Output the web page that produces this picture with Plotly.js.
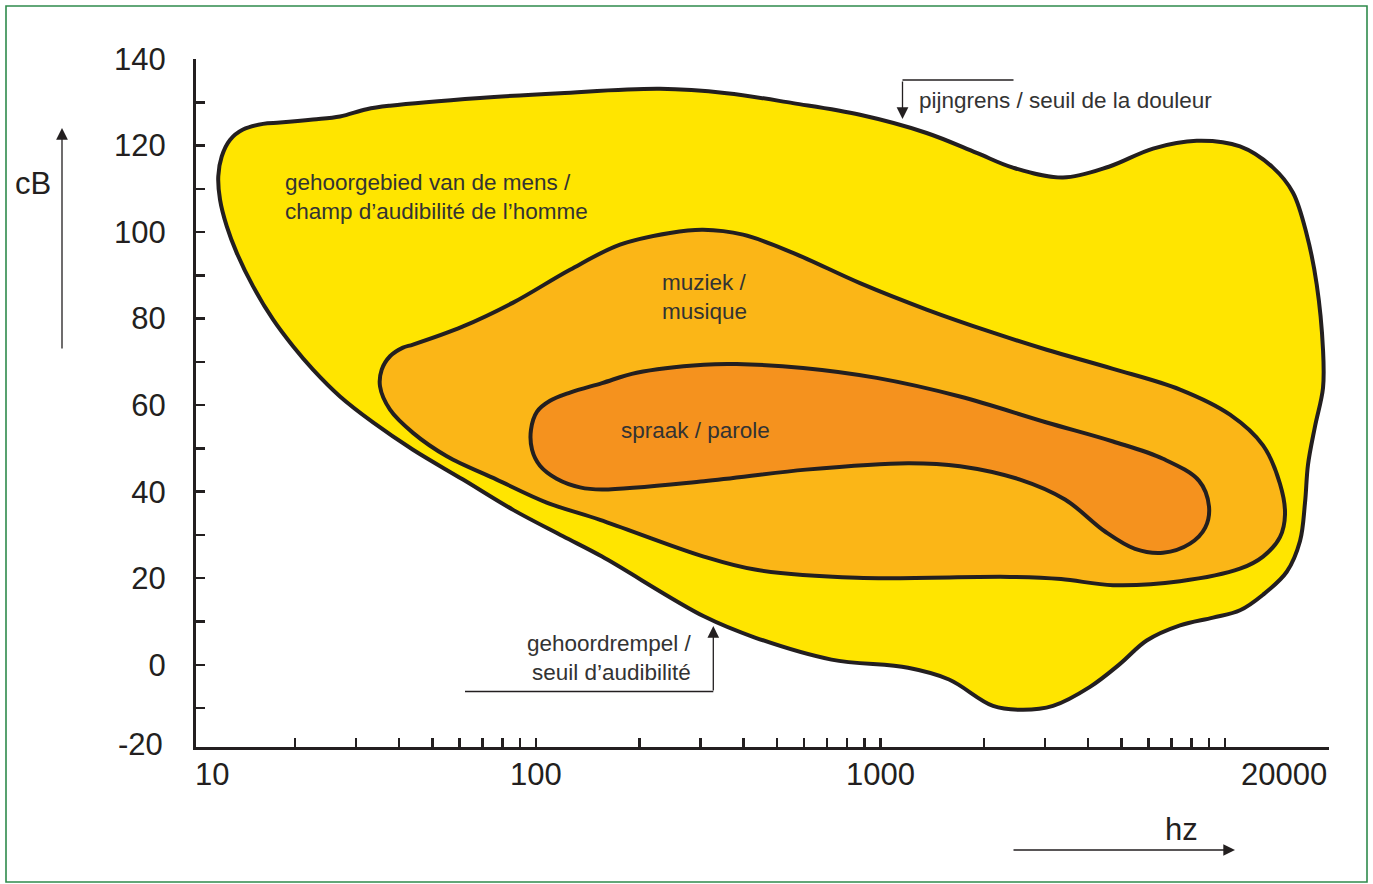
<!DOCTYPE html>
<html>
<head>
<meta charset="utf-8">
<script src="https://cdn.plot.ly/plotly-3.0.1.min.js"></script>
<style>
  html, body { margin: 0; padding: 0; background: #ffffff; }
  #chart { width: 1373px; height: 884px; }
</style>
</head>
<body>
<div id="chart"></div>
<script>
// ---- Data (frequency in Hz, level in cB) ----
var hearingFreq = [12.24, 12.93, 14.11, 16.13, 18.07, 22.53, 26.98, 32.25, 37.69, 68.8, 117.4, 229, 357.7, 557, 872, 1361, 1902, 2424, 3386, 4600, 6182, 8278, 11055, 13786, 15755, 17274, 18460, 19254, 19254, 18251, 17418, 17073, 16512, 15111, 12893, 11055, 9231, 7404, 5925, 4957, 4056, 3167, 2592, 2121, 1581, 1202, 721, 432, 307, 155.5, 119.8, 85.8, 61.4, 43.95, 33.65, 26.98, 22.53, 19.71, 17.24, 15.08, 13.53, 12.66, 12.1, 11.96, 12.24];
var hearingDb   = [117.5, 121.3, 123.7, 125.0, 125.3, 126.0, 126.7, 128.4, 129.2, 131.0, 132.1, 133.1, 132.1, 129.8, 127.1, 122.9, 118.3, 114.9, 112.6, 115.1, 119.3, 121.1, 119.8, 114.9, 109.1, 99.4, 87.9, 72.8, 64.0, 55.1, 46.3, 37.5, 28.6, 21.5, 16.2, 12.6, 10.9, 9.1, 5.6, 0.2, -5.1, -9.5, -10.4, -9.5, -3.4, -0.7, 1.2, 6.3, 11.2, 25.0, 29.7, 35.8, 42.8, 49.7, 56.0, 62.0, 68.2, 73.6, 79.8, 87.5, 95.2, 101.3, 107.5, 112.9, 117.5];

var musicFreq = [35.26, 35.66, 37.69, 41.1, 43.95, 61.4, 85.8, 125.5, 175.3, 244.9, 305.3, 399, 557, 872, 1361, 2121, 3037, 4732, 7404, 10340, 12893, 14440, 14936, 14440, 12893, 11055, 7404, 4732, 3342, 2376, 855, 432, 307, 153.4, 107.4, 76.9, 55.1, 43.95, 37.69, 35.26];
var musicDb   = [64.3, 68.2, 71.3, 73.3, 74.0, 78.2, 83.7, 91.3, 97.1, 99.8, 100.55, 99.4, 95.2, 88.2, 82.1, 76.75, 72.8, 68.4, 63.6, 57.8, 50.7, 41.85, 34.8, 29.5, 25.0, 22.2, 19.3, 18.4, 19.8, 20.3, 20.1, 22.0, 25.0, 33.5, 37.5, 42.8, 48.2, 53.6, 58.95, 64.3];

var speechFreq = [96.7, 100.7, 109.8, 125.5, 155.5, 196.0, 307, 382.4, 595.7, 975, 1701, 3037, 4732, 6609, 8408, 8986, 8762, 7914, 6609, 5479, 4485, 3432, 2541, 1701, 1202, 607.6, 307, 155.5, 134.2, 114.8, 102.7, 97.4, 96.7];
var speechDb   = [54.3, 58.5, 61.0, 62.9, 65.1, 67.5, 69.35, 69.5, 68.6, 66.3, 62.0, 56.0, 51.6, 47.6, 42.5, 36.6, 31.7, 28.0, 25.9, 26.8, 30.8, 38.2, 42.8, 45.9, 46.6, 45.1, 42.4, 40.5, 41.0, 43.0, 46.0, 49.7, 54.3];

var yTickVals = [-10, 0, 10, 20, 30, 40, 50, 60, 70, 80, 90, 100, 110, 120, 130, 140];
var yTickText = ['', '0', '', '20', '', '40', '', '60', '', '80', '', '100', '', '120', '', '140'];
var yBottomLabel = '-20';
var xTickVals = [20, 30, 40, 50, 60, 70, 80, 90, 100, 200, 300, 400, 500, 600, 700, 800, 900, 1000, 2000, 3000, 4000, 5000, 6000, 7000, 8000, 9000, 10000];
var xLabelVals = [10, 100, 1000, 20000];
var xLabelText = ['10', '100', '1000', '20000'];

var regionNames = ['gehoorgebied van de mens / champ d’audibilité de l’homme', 'muziek / musique', 'spraak / parole'];
var regionColors = ['#FFE500', '#FBB617', '#F5921E'];

// ---- Styling ----
var INK = '#231f20';
var TXT = '#333333';
var FONT = 'Liberation Sans, Arial, Helvetica, sans-serif';

function region(xs, ys, name, color) {
  return {
    type: 'scatter', mode: 'lines', x: xs, y: ys, name: name,
    fill: 'toself', fillcolor: color,
    line: { color: INK, width: 4, shape: 'spline', smoothing: 1 },
    hoverinfo: 'name', showlegend: false
  };
}

var traces = [
  region(hearingFreq, hearingDb, regionNames[0], regionColors[0]),
  region(musicFreq, musicDb, regionNames[1], regionColors[1]),
  region(speechFreq, speechDb, regionNames[2], regionColors[2])
];

// plot area in px
var L = 196, R = 1329, T = 59, B = 747;
var DEC = 344.5, X10 = 191.5;        // px per decade, px of 10 Hz
var PXU = 4.327;                     // px per cB
function px(x) { return (x - L) / (R - L); }
function py(y) { return (B - y) / (B - T); }

var annotations = [];
// x tick labels
var xAnch = ['left', 'center', 'center', 'right'];
for (var i = 0; i < xLabelVals.length; i++) {
  var lx = Math.log10(xLabelVals[i]);
  var pxx = X10 + (lx - 1) * DEC;
  annotations.push({
    x: px(Math.max(pxx, 192.5)), xref: 'paper', y: py(774), yref: 'paper',
    text: xLabelText[i], showarrow: false, xanchor: xAnch[i], yanchor: 'middle',
    font: { family: FONT, size: 31, color: INK }
  });
}
annotations.push({ x: px(165), y: py(744), xref: 'paper', yref: 'paper', text: yBottomLabel, showarrow: false,
  xanchor: 'right', yanchor: 'middle', font: { family: FONT, size: 31, color: INK } });
// axis names
annotations.push({ x: px(33), y: py(183), xref: 'paper', yref: 'paper', text: 'cB', showarrow: false,
  xanchor: 'center', yanchor: 'middle', font: { family: FONT, size: 31, color: INK } });
annotations.push({ x: px(1181), y: py(829), xref: 'paper', yref: 'paper', text: 'hz', showarrow: false,
  xanchor: 'center', yanchor: 'middle', font: { family: FONT, size: 31, color: INK } });
// axis arrows
annotations.push({ x: px(62), y: py(128), xref: 'paper', yref: 'paper', text: '', showarrow: true,
  ax: 0, ay: 222, arrowhead: 2, arrowsize: 1.8, arrowwidth: 1.3, arrowcolor: INK });
annotations.push({ x: px(1235), y: py(850), xref: 'paper', yref: 'paper', text: '', showarrow: true,
  ax: -223, ay: 0, arrowhead: 2, arrowsize: 1.8, arrowwidth: 1.3, arrowcolor: INK });
// region labels
var LBL = 22.5;
annotations.push({ x: px(283), y: py(197), xref: 'paper', yref: 'paper',
  text: 'gehoorgebied van de mens /<br>champ d’audibilité de l’homme', showarrow: false,
  xanchor: 'left', yanchor: 'middle', align: 'left', font: { family: FONT, size: LBL, color: TXT } });
annotations.push({ x: px(660), y: py(297), xref: 'paper', yref: 'paper',
  text: 'muziek /<br>musique', showarrow: false,
  xanchor: 'left', yanchor: 'middle', align: 'left', font: { family: FONT, size: LBL, color: TXT } });
annotations.push({ x: px(619), y: py(430), xref: 'paper', yref: 'paper',
  text: 'spraak / parole', showarrow: false,
  xanchor: 'left', yanchor: 'middle', align: 'left', font: { family: FONT, size: LBL, color: TXT } });
annotations.push({ x: px(917), y: py(100), xref: 'paper', yref: 'paper',
  text: 'pijngrens / seuil de la douleur', showarrow: false,
  xanchor: 'left', yanchor: 'middle', align: 'left', font: { family: FONT, size: LBL, color: TXT } });
annotations.push({ x: px(694), y: py(658), xref: 'paper', yref: 'paper',
  text: 'gehoordrempel /<br>seuil d’audibilité', showarrow: false,
  xanchor: 'right', yanchor: 'middle', align: 'right', font: { family: FONT, size: LBL, color: TXT } });
// pointer arrows
annotations.push({ x: px(902.5), y: py(119), xref: 'paper', yref: 'paper', text: '', showarrow: true,
  ax: 0, ay: -39, arrowhead: 2, arrowsize: 1.8, arrowwidth: 1.3, arrowcolor: INK });
annotations.push({ x: px(713.3), y: py(626), xref: 'paper', yref: 'paper', text: '', showarrow: true,
  ax: 0, ay: 66, arrowhead: 2, arrowsize: 1.8, arrowwidth: 1.3, arrowcolor: INK });

var shapes = [
  { type: 'line', xref: 'paper', yref: 'paper', x0: px(902.5), x1: px(1013.5), y0: py(80), y1: py(80),
    line: { color: INK, width: 1.3 } },
  { type: 'line', xref: 'paper', yref: 'paper', x0: px(465), x1: px(713.3), y0: py(691.5), y1: py(691.5),
    line: { color: INK, width: 1.3 } },
  { type: 'rect', xref: 'paper', yref: 'paper', x0: px(6), x1: px(1367), y0: py(882), y1: py(6),
    line: { color: '#2f8a4c', width: 1.6 }, fillcolor: 'rgba(0,0,0,0)' }
];

var layout = {
  width: 1373, height: 884,
  margin: { l: L, r: 1373 - R, t: T, b: 884 - B, pad: 0 },
  paper_bgcolor: '#ffffff', plot_bgcolor: '#ffffff',
  showlegend: false,
  xaxis: {
    type: 'log', range: [1 + (L - X10) / DEC, 1 + (R - X10) / DEC], autorange: false,
    showline: true, linewidth: 3, linecolor: INK,
    ticks: 'inside', ticklen: 9, tickwidth: 2.5, tickcolor: INK,
    tickmode: 'array', tickvals: xTickVals, showticklabels: false,
    showgrid: false, zeroline: false, fixedrange: true
  },
  yaxis: {
    range: [140 - (B - T) / PXU, 140], autorange: false,
    showline: true, linewidth: 3, linecolor: INK,
    ticks: 'inside', ticklen: 9, tickwidth: 2.5, tickcolor: INK,
    tickmode: 'array', tickvals: yTickVals, ticktext: yTickText,
    tickfont: { family: FONT, size: 31, color: INK },
    ticklabelstandoff: 21,
    showgrid: false, zeroline: false, fixedrange: true
  },
  annotations: annotations,
  shapes: shapes
};

Plotly.newPlot('chart', traces, layout, { displayModeBar: false, staticPlot: true });
</script>
</body>
</html>
